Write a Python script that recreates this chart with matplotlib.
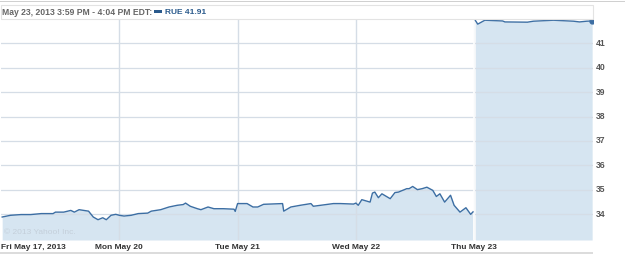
import matplotlib.pyplot as plt
from matplotlib.patches import Rectangle

W, H = 625, 257
PX_PER_DAY = 118.5

# week intraday series, positions in trading days from Fri May 17 open
week_t = [0.01, 0.08, 0.17, 0.25, 0.34, 0.44, 0.46, 0.53, 0.59, 0.62, 0.66, 0.70, 0.74,
          0.78, 0.82, 0.86, 0.89, 0.93, 0.97, 1.00, 1.04, 1.10, 1.16, 1.24, 1.27, 1.35,
          1.42, 1.49, 1.54, 1.56, 1.60, 1.66, 1.69, 1.75, 1.80, 1.88, 1.97, 1.98, 2.00,
          2.08, 2.13, 2.17, 2.22, 2.38, 2.39, 2.45, 2.53, 2.62, 2.64, 2.81, 2.87, 2.98,
          3.00, 3.02, 3.05, 3.12, 3.14, 3.16, 3.19, 3.22, 3.29, 3.33, 3.36, 3.43, 3.45,
          3.48, 3.52, 3.56, 3.60, 3.65, 3.68, 3.71, 3.75, 3.80, 3.83, 3.88, 3.93, 3.97,
          3.99]
week_v = [33.89, 33.96, 33.99, 33.99, 34.03, 34.03, 34.09, 34.09, 34.16, 34.09, 34.19,
          34.16, 34.13, 33.89, 33.78, 33.86, 33.78, 33.96, 34.00, 33.96, 33.93, 33.96,
          34.03, 34.05, 34.13, 34.19, 34.30, 34.37, 34.40, 34.46, 34.33, 34.23, 34.19,
          34.30, 34.23, 34.23, 34.21, 34.12, 34.44, 34.44, 34.30, 34.30, 34.41, 34.44,
          34.13, 34.30, 34.37, 34.44, 34.33, 34.44, 34.44, 34.42, 34.46, 34.37, 34.60,
          34.50, 34.87, 34.91, 34.68, 34.84, 34.64, 34.89, 34.91, 35.05, 35.05, 35.14,
          35.01, 35.05, 35.11, 34.98, 34.73, 34.84, 34.50, 34.78, 34.37, 34.09, 34.27,
          34.00, 34.10]

# Thu May 23, last session
thu_t = [4.01, 4.03, 4.09, 4.24, 4.26, 4.45, 4.50, 4.67, 4.84, 4.89, 4.95, 4.997]
thu_v = [41.93, 41.78, 41.94, 41.91, 41.87, 41.86, 41.90, 41.94, 41.90, 41.87, 41.90, 41.91]

day_pos = [0, 1, 2, 3, 4]
day_labels = ["Fri May 17, 2013", "Mon May 20", "Tue May 21", "Wed May 22", "Thu May 23"]
y_ticks = [34, 35, 36, 37, 38, 39, 40, 41]

line_color = "#3c6ea3"
fill_color = "#d6e5f1"
grid_color = "#d5dde6"
text_gray = "#555555"
FONT = "Liberation Sans"

fig = plt.figure(figsize=(W / 100, H / 100), dpi=100)
fig.patch.set_facecolor("white")

# plot area in pixels: x 1..593, y 19..240
ax = fig.add_axes([1 / W, (H - 240) / H, 592 / W, 221 / H])
ax.set_xlim(0, 593 / PX_PER_DAY)
ax.set_ylim(32.95, 41.99)
for s in ax.spines.values():
    s.set_visible(False)

ax.fill_between(week_t, week_v, 32.95, color=fill_color, lw=0, zorder=1)
ax.fill_between(thu_t, thu_v, 32.95, color=fill_color, lw=0, zorder=1)
ax.plot(week_t, week_v, color=line_color, lw=1.0, zorder=3)
ax.plot(thu_t, thu_v, color=line_color, lw=1.0, zorder=3)
ax.plot(thu_t[-1], thu_v[-1], "o", color=line_color, ms=3.5, zorder=4)

for y in y_ticks:
    ax.axhline(y, color=grid_color, lw=0.9, zorder=2)
for x in day_pos[1:]:
    ax.axvline(x, color=grid_color, lw=1.0, zorder=2)
ax.axvline(4, color="white", lw=1.2, zorder=2)

ax.set_xticks([])
ax.set_yticks([])

# right side price labels
for y in y_ticks:
    ax.annotate(str(y), xy=(1, y), xycoords=("axes fraction", "data"),
                xytext=(2.2, 0), textcoords="offset points", va="center", ha="left",
                fontsize=6.2, fontweight="bold", color=text_gray, family=FONT)

# day labels below
for x, lab in zip(day_pos, day_labels):
    ax.annotate(lab, xy=(x, 0), xycoords=("data", "axes fraction"),
                xytext=(0, -5.5), textcoords="offset points", va="center",
                ha="left" if x == 0 else "center",
                fontsize=6.0, fontweight="bold", color="#333333", family=FONT)

ax.text(3 / 592, 8 / 221, "\u00a9 2013 Yahoo! Inc.", transform=ax.transAxes,
        fontsize=6, color="#c4cfda", va="center", ha="left", family=FONT)

# header box and frame lines
def px_rect(x0, y0, x1, y1, **kw):
    return Rectangle((x0 / W, 1 - y1 / H), (x1 - x0) / W, (y1 - y0) / H,
                     transform=fig.transFigure, **kw)

fig.patches.append(px_rect(0, 0.5, W, 1.5, facecolor="#d0d0d0", lw=0))
fig.patches.append(px_rect(0.5, 5, 593, 19, facecolor="white", edgecolor="#e3e3e3", lw=0.8))
fig.patches.append(px_rect(0, 252, 593, 254, facecolor="#dcdcdc", lw=0))
fig.patches.append(px_rect(154, 10, 162, 13, facecolor="#2a5a8c", lw=0))

fig.text(2 / W, 1 - 12 / H, "May 23, 2013 3:59 PM - 4:04 PM EDT:", fontsize=6.2,
         fontweight="bold", color="#666666", va="center", ha="left", family=FONT)
fig.text(165 / W, 1 - 12 / H, "RUE 41.91", fontsize=6.0, fontweight="bold",
         color="#2a5a8c", va="center", ha="left", family=FONT)

fig.savefig("out.png", dpi=100)
